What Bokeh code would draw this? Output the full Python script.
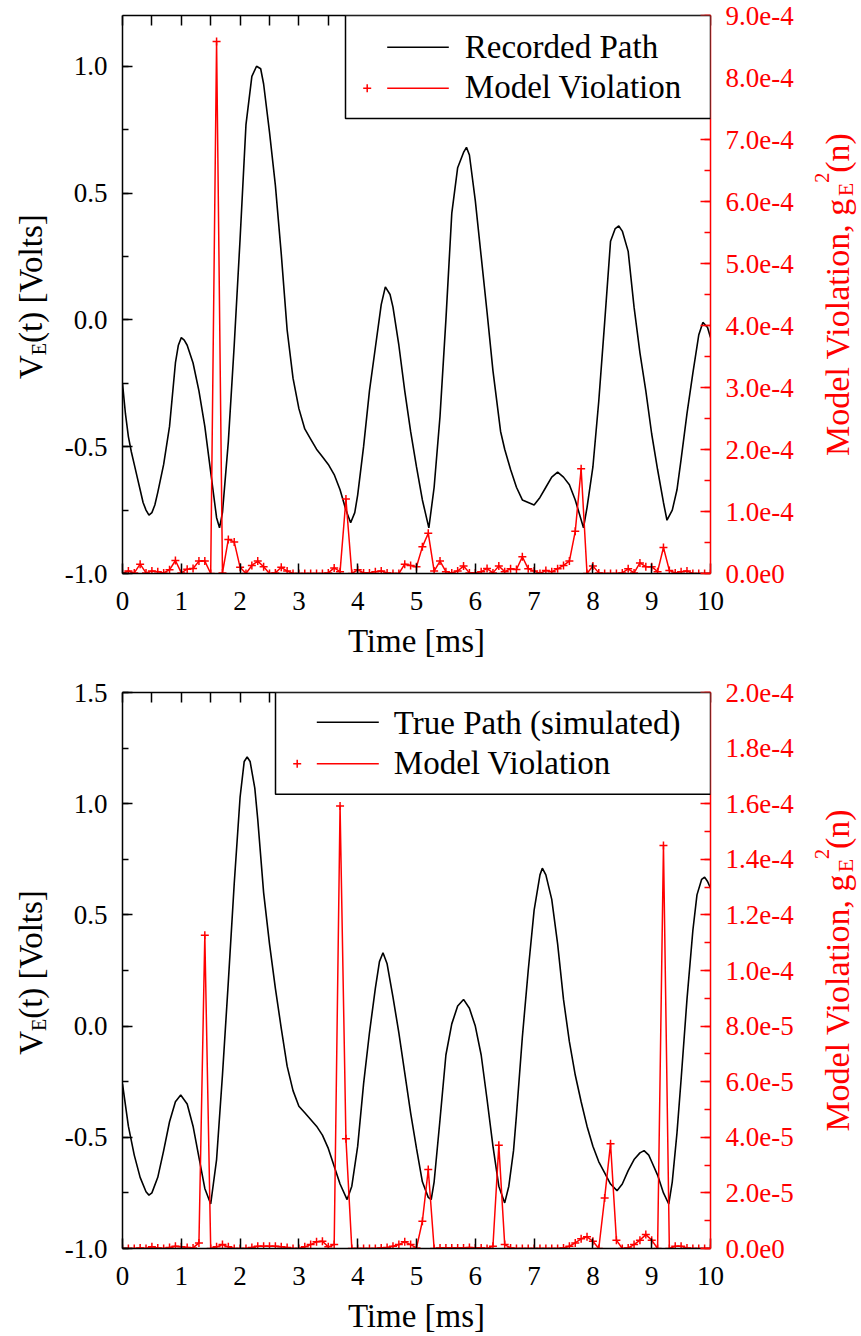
import math
from bokeh.plotting import figure
from bokeh.models import (Range1d, LinearAxis, SingleIntervalTicker, NumeralTickFormatter,
                          CustomJSTickFormatter, BoxAnnotation, Label)
from bokeh.core.properties import value
from bokeh.layouts import column, row
from bokeh.embed import file_html
from bokeh.resources import INLINE

FONT = "Liberation Serif"
RED = "#ff0000"

# ---------------- data ----------------
# top panel: recorded path (time in ms, volts)
rec_t = [0.00, 0.05, 0.10, 0.15, 0.20, 0.25, 0.30, 0.35, 0.40, 0.45, 0.50, 0.55, 0.60, 0.70, 0.80,
         0.90, 0.95, 1.00, 1.05, 1.10, 1.20, 1.30, 1.40, 1.50, 1.60, 1.65, 1.70, 1.80, 1.90, 2.00,
         2.10, 2.20, 2.28, 2.35, 2.40, 2.50, 2.60, 2.70, 2.80, 2.90, 3.00, 3.10, 3.20, 3.30, 3.40,
         3.50, 3.60, 3.70, 3.80, 3.88, 3.95, 4.00, 4.10, 4.20, 4.30, 4.40, 4.47, 4.55, 4.60, 4.70,
         4.80, 4.90, 5.00, 5.10, 5.21, 5.30, 5.40, 5.50, 5.60, 5.70, 5.80, 5.85, 5.90, 6.00, 6.10,
         6.20, 6.30, 6.43, 6.50, 6.60, 6.70, 6.80, 6.90, 7.00, 7.10, 7.20, 7.30, 7.40, 7.50, 7.60,
         7.70, 7.84, 7.90, 8.00, 8.10, 8.20, 8.30, 8.38, 8.44, 8.50, 8.60, 8.70, 8.80, 8.90, 9.00,
         9.10, 9.20, 9.26, 9.35, 9.43, 9.50, 9.60, 9.70, 9.80, 9.87, 9.95, 10.00]
rec_v = [-0.25, -0.37, -0.46, -0.52, -0.57, -0.62, -0.67, -0.72, -0.75, -0.77, -0.76, -0.73, -0.68, -0.57, -0.42,
         -0.17, -0.10, -0.07, -0.08, -0.10, -0.17, -0.28, -0.42, -0.60, -0.78, -0.82, -0.76, -0.48, -0.10, 0.32,
         0.77, 0.96, 1.00, 0.99, 0.93, 0.74, 0.53, 0.26, -0.04, -0.23, -0.35, -0.43, -0.47, -0.51, -0.54,
         -0.57, -0.61, -0.67, -0.75, -0.80, -0.76, -0.69, -0.50, -0.28, -0.11, 0.06, 0.13, 0.10, 0.05, -0.10,
         -0.28, -0.44, -0.58, -0.71, -0.82, -0.66, -0.38, 0.00, 0.42, 0.60, 0.66, 0.68, 0.65, 0.47, 0.25,
         0.03, -0.20, -0.44, -0.51, -0.59, -0.66, -0.71, -0.72, -0.73, -0.70, -0.66, -0.62, -0.60, -0.62, -0.65,
         -0.71, -0.82, -0.74, -0.58, -0.32, -0.01, 0.31, 0.36, 0.37, 0.35, 0.27, 0.05, -0.13, -0.28, -0.45,
         -0.59, -0.72, -0.79, -0.75, -0.67, -0.55, -0.37, -0.21, -0.06, -0.01, -0.03, -0.07]

# model violation sample times (ms)
viol_t = [i / 10 for i in range(101)]

# top panel model violation, in units of 1e-4
viol_top_e4 = [0.00, 0.04, 0.01, 0.15, 0.01, 0.04, 0.03, 0.01, 0.06, 0.21,
               0.01, 0.07, 0.08, 0.20, 0.20, 0.00, 8.58, 0.01, 0.55, 0.51,
               0.10, 0.00, 0.13, 0.20, 0.11, 0.00, 0.01, 0.10, 0.04, 0.00,
               0.00, 0.00, 0.00, 0.00, 0.00, 0.01, 0.09, 0.03, 1.20, 0.00,
               0.06, 0.01, 0.01, 0.03, 0.04, 0.01, 0.00, 0.00, 0.15, 0.13,
               0.11, 0.43, 0.65, 0.04, 0.20, 0.03, 0.01, 0.04, 0.12, 0.01,
               0.01, 0.03, 0.08, 0.01, 0.12, 0.03, 0.075, 0.065, 0.27, 0.075,
               0.04, 0.00, 0.05, 0.03, 0.075, 0.13, 0.20, 0.68, 1.69, 0.00,
               0.12, 0.01, 0.00, 0.00, 0.00, 0.01, 0.075, 0.01, 0.17, 0.11,
               0.11, 0.03, 0.42, 0.05, 0.01, 0.03, 0.04, 0.00, 0.00, 0.00,
               0.00]
viol_top = [v * 1e-4 for v in viol_top_e4]

# bottom panel: true path (simulated)
true_t = [0.0, 0.1, 0.2, 0.3, 0.4, 0.45, 0.5, 0.6, 0.7, 0.8, 0.9, 0.99, 1.1, 1.2, 1.3,
          1.4, 1.5, 1.6, 1.7, 1.8, 1.9, 2.0, 2.07, 2.12, 2.17, 2.25, 2.3, 2.4, 2.5, 2.6,
          2.7, 2.8, 2.9, 3.0, 3.1, 3.2, 3.3, 3.4, 3.5, 3.6, 3.7, 3.82, 3.9, 4.0, 4.1,
          4.2, 4.3, 4.37, 4.43, 4.5, 4.6, 4.7, 4.8, 4.9, 5.0, 5.1, 5.2, 5.25, 5.3, 5.4,
          5.5, 5.6, 5.7, 5.8, 5.9, 6.0, 6.1, 6.2, 6.3, 6.4, 6.5, 6.57, 6.65, 6.7, 6.8,
          6.9, 7.0, 7.1, 7.14, 7.2, 7.3, 7.4, 7.5, 7.6, 7.7, 7.8, 7.9, 8.0, 8.1, 8.2,
          8.3, 8.41, 8.5, 8.6, 8.7, 8.8, 8.87, 8.95, 9.0, 9.1, 9.2, 9.29, 9.35, 9.43, 9.5,
          9.6, 9.7, 9.77, 9.85, 9.9, 9.95, 10.0]
true_v = [-0.26, -0.45, -0.58, -0.68, -0.745, -0.76, -0.75, -0.68, -0.56, -0.43, -0.34, -0.31, -0.35, -0.45, -0.59,
          -0.73, -0.80, -0.60, -0.22, 0.20, 0.64, 1.03, 1.19, 1.21, 1.19, 1.07, 0.93, 0.60, 0.37, 0.17,
          -0.01, -0.18, -0.29, -0.36, -0.39, -0.42, -0.45, -0.49, -0.55, -0.63, -0.71, -0.78, -0.72, -0.54, -0.26,
          -0.03, 0.17, 0.29, 0.33, 0.28, 0.13, -0.03, -0.21, -0.39, -0.55, -0.70, -0.77, -0.78, -0.70, -0.42,
          -0.13, 0.01, 0.09, 0.12, 0.08, 0.00, -0.13, -0.33, -0.54, -0.72, -0.795, -0.72, -0.56, -0.40, -0.05,
          0.25, 0.52, 0.68, 0.71, 0.68, 0.57, 0.37, 0.12, -0.07, -0.22, -0.34, -0.45, -0.54, -0.61, -0.66,
          -0.71, -0.74, -0.71, -0.65, -0.60, -0.57, -0.56, -0.58, -0.61, -0.67, -0.75, -0.80, -0.70, -0.48, -0.24,
          0.12, 0.43, 0.59, 0.66, 0.67, 0.65, 0.62]

# bottom panel model violation, in units of 1e-5
viol_bot_e5 = [0.00, 0.00, 0.00, 0.02, 0.00, 0.06, 0.02, 0.00, 0.04, 0.08,
               0.06, 0.04, 0.02, 0.20, 11.27, 0.00, 0.06, 0.14, 0.06, 0.00,
               0.00, 0.00, 0.04, 0.08, 0.08, 0.08, 0.08, 0.06, 0.04, 0.00,
               0.00, 0.06, 0.14, 0.24, 0.26, 0.06, 0.14, 15.92, 3.95, 0.00,
               0.00, 0.00, 0.00, 0.00, 0.02, 0.04, 0.08, 0.14, 0.24, 0.14,
               0.02, 0.98, 2.84, 0.00, 0.02, 0.02, 0.02, 0.02, 0.02, 0.04,
               0.02, 0.02, 0.00, 0.08, 3.71, 0.14, 0.02, 0.00, 0.00, 0.00,
               0.00, 0.00, 0.00, 0.00, 0.00, 0.02, 0.08, 0.20, 0.35, 0.42,
               0.26, 0.00, 1.82, 3.77, 0.30, 0.00, 0.02, 0.14, 0.30, 0.50,
               0.30, 0.00, 14.50, 0.00, 0.08, 0.08, 0.02, 0.00, 0.00, 0.00,
               0.00]
viol_bot = [v * 1e-5 for v in viol_bot_e5]

legend_top = ["Recorded Path", "Model Violation"]
legend_bot = ["True Path (simulated)", "Model Violation"]

# ---------------- layout constants (page pixels) ----------------
LW = 50                 # left title strip
RW = 51                 # right title strip
MAIN_W = 861 - LW - RW  # main figure width
BL = 72                 # main figure left border -> frame left at 122
FW = 588                # frame width
BR = MAIN_W - BL - FW   # right border
FRAME_LEFT = LW + BL
RIGHT_X0 = LW + MAIN_W
MID = 0.3375            # em-box middle above the baseline (Liberation Serif)

# Times / Liberation Serif advance widths (1/1000 em)
TW = {' ': 250, '(': 333, ')': 333, '[': 333, ']': 333, ',': 250, '2': 500, 'E': 611, 'M': 889,
      'V': 722, 'a': 444, 'd': 500, 'e': 444, 'g': 500, 'i': 278, 'l': 278, 'n': 500, 'o': 500,
      's': 389, 't': 278}


def tw(s, size):
    return sum(TW.get(c, 500) for c in s) / 1000.0 * size


def px2x(px):
    return (px - FRAME_LEFT) / FW * 10.0


def build(fig_top, height, btop, bbot, y0, y1, yint, r1, rint, curve_t, curve_v, viol,
          legend_labels, leg):
    fh = height - btop - bbot

    def py2y(py):
        return y1 - (py - (fig_top + btop)) / fh * (y1 - y0)

    p = figure(width=MAIN_W, height=height, x_range=Range1d(0, 10), y_range=Range1d(y0, y1),
               output_backend="svg", toolbar_location=None,
               min_border_left=BL, min_border_right=BR, min_border_top=btop, min_border_bottom=bbot)
    p.extra_y_ranges = {"viol": Range1d(0, r1)}
    p.outline_line_color = None
    p.grid.visible = False

    # bottom x axis
    xa = p.xaxis[0]
    xa.ticker = SingleIntervalTicker(interval=1, num_minor_ticks=0)
    xa.formatter = NumeralTickFormatter(format="0")
    # left y axis
    ya = p.yaxis[0]
    ya.ticker = SingleIntervalTicker(interval=yint, num_minor_ticks=2)
    ya.formatter = NumeralTickFormatter(format="0.0")
    for ax in (xa, ya):
        ax.major_tick_in = 10
        ax.major_tick_out = 0
        ax.minor_tick_in = 6
        ax.minor_tick_out = 0
        ax.axis_line_width = 1.5
        ax.major_tick_line_width = 1.5
        ax.minor_tick_line_width = 1.5
        ax.major_label_text_font = FONT
        ax.major_label_text_font_size = "27px"
        ax.major_label_text_color = "black"
    xa.major_label_standoff = 18
    ya.major_label_standoff = 15
    xa.axis_label = "Time [ms]"
    xa.axis_label_text_font = FONT
    xa.axis_label_text_font_size = "33px"
    xa.axis_label_text_font_style = "normal"
    xa.axis_label_text_color = "black"
    xa.axis_label_standoff = 10

    # right axis (model violation)
    ra = LinearAxis(y_range_name="viol",
                    ticker=SingleIntervalTicker(interval=rint, num_minor_ticks=2),
                    formatter=CustomJSTickFormatter(code="return tick.toExponential(1).replace('+', '');"))
    ra.major_tick_in = 10
    ra.major_tick_out = 0
    ra.minor_tick_in = 6
    ra.minor_tick_out = 0
    ra.axis_line_color = RED
    ra.major_tick_line_color = RED
    ra.minor_tick_line_color = RED
    ra.axis_line_width = 1.5
    ra.major_tick_line_width = 1.5
    ra.minor_tick_line_width = 1.5
    ra.major_label_text_font = FONT
    ra.major_label_text_font_size = "27px"
    ra.major_label_text_color = RED
    ra.major_label_standoff = 15
    p.add_layout(ra, "right")

    # top mirror axis (ticks only)
    ta = LinearAxis(ticker=SingleIntervalTicker(interval=0.5, num_minor_ticks=0),
                    formatter=CustomJSTickFormatter(code="return '';"))
    ta.major_tick_in = 10
    ta.major_tick_out = 0
    ta.minor_tick_in = 0
    ta.minor_tick_out = 0
    ta.axis_line_width = 1.5
    ta.major_tick_line_width = 1.5
    ta.major_label_text_font_size = "0px"
    ta.major_label_standoff = 0
    p.add_layout(ta, "above")

    # data
    p.line(curve_t, curve_v, line_color="black", line_width=1.6)
    p.line(viol_t, viol, y_range_name="viol", line_color=RED, line_width=1.5)
    p.scatter(viol_t, viol, y_range_name="viol", marker="cross", size=8,
              line_color=RED, line_width=1.5)

    # legend (box, samples, text)
    p.add_layout(BoxAnnotation(left=px2x(leg["box"][0]), right=px2x(leg["box"][2]),
                               top=py2y(leg["box"][1]), bottom=py2y(leg["box"][3]),
                               fill_color="white", fill_alpha=1.0,
                               line_color="black", line_width=1.5, line_alpha=1.0))
    lx0, lx1 = px2x(leg["line"][0]), px2x(leg["line"][1])
    p.line([lx0, lx1], [py2y(leg["y1"])] * 2, line_color="black", line_width=1.5, level="overlay")
    p.line([lx0, lx1], [py2y(leg["y2"])] * 2, line_color=RED, line_width=1.5, level="overlay")
    p.scatter([px2x(leg["mark"])], [py2y(leg["y2"])], marker="cross", size=8,
              line_color=RED, line_width=1.5, level="overlay")
    for lab, mid in zip(legend_labels, (leg["m1"], leg["m2"])):
        p.add_layout(Label(x=px2x(leg["text"]), y=py2y(mid), text=lab,
                           text_font=FONT, text_font_size="33px", text_color="black",
                           text_align="left", text_baseline="middle", level="overlay"))

    # side title strips: their frames align with the main frame, so they share its y range
    def strip(width):
        s = figure(width=width, height=height, x_range=Range1d(0, width), y_range=Range1d(y0, y1),
                   output_backend="svg", toolbar_location=None, x_axis_location=None,
                   y_axis_location=None, min_border_left=0, min_border_right=0,
                   min_border_top=btop, min_border_bottom=bbot)
        s.outline_line_color = None
        s.grid.visible = False
        return s

    center_py = fig_top + btop + fh / 2.0

    def rot_label(s, base_x, parts, color):
        total = sum(tw(t, sz) for t, sz, o in parts)
        y = center_py + total / 2.0
        for t, sz, o in parts:
            s.text(x=[base_x + o - MID * sz], y=[py2y(y)], text=[t], angle=math.pi / 2,
                   text_align="left", text_baseline="middle",
                   text_font=value(FONT), text_font_size=value(f"{sz}px"), text_color=color)
            y -= tw(t, sz)

    left = strip(LW)
    rot_label(left, 42, [("V", 33, 0), ("E", 20, 3), ("(t) [Volts]", 33, 0)], "black")
    right = strip(RW)
    rot_label(right, 848 - RIGHT_X0,
              [("Model Violation, g", 34, 0), ("E", 22, 4), ("2", 20, -20), ("(n)", 34, 0)], RED)
    return row(left, p, right)


H1, H2 = 665, 671
leg1 = dict(box=(345, 15, 710, 118), line=(386.7, 448.3), y1=46.7, y2=87.7, mark=366.7,
            text=464.3, m1=46.7, m2=86.8)
leg2 = dict(box=(275, 692, 710, 794), line=(316.3, 378.3), y1=721.7, y2=763.3, mark=296.7,
            text=393.3, m1=722.3, m2=763.0)

r1 = build(0, H1, 15, 92, -1.0, 1.2, 0.5, 9.0001e-4, 1e-4, rec_t, rec_v, viol_top, legend_top, leg1)
r2 = build(H1, H2, 27, 87, -1.0, 1.5, 0.5, 2.0001e-4, 2e-5, true_t, true_v, viol_bot, legend_bot, leg2)

layout = column(r1, r2)
open("out.html", "w").write(file_html(layout, INLINE))
